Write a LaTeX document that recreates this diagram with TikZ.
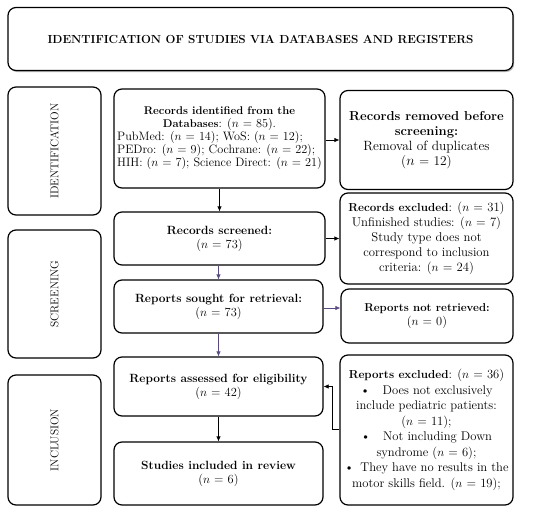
\documentclass[tikz,border=0pt]{standalone}
\usetikzlibrary{arrows.meta,shadows,positioning,calc}
\definecolor{arrpurple}{HTML}{5A4A82}
\newcommand{\bt}[1]{{\fontsize{11.9}{12}\selectfont\bfseries #1}}
\begin{document}
\begin{tikzpicture}[x=1pt,y=-1pt,
  box/.style={draw=black,line width=1.2pt,rounded corners=8pt,align=center,inner sep=2pt,fill=white},
  sidebox/.style={box,minimum width=93pt},
  arr/.style={-{Latex[length=5pt,width=4.5pt]},line width=0.7pt},
  parr/.style={arr,draw=arrpurple,color=arrpurple},
  every node/.style={font=\fontsize{12.2}{12.5}\selectfont}
]
\useasboundingbox (0,0) rectangle (550,512);
\node[box,minimum width=505pt,minimum height=63pt,
  drop shadow={shadow xshift=1.2pt,shadow yshift=-1.5pt,fill=black!60}] (title) at (260.5,39)
  {\fontsize{11.7}{13}\selectfont\bfseries IDENTIFICATION OF STUDIES VIA DATABASES AND REGISTERS};
\node[sidebox,minimum height=128pt] (ident) at (54.5,151) {};
\node[rotate=90,font=\fontsize{11.3}{13}\selectfont] at (ident.center) {IDENTIFICATION};
\node[sidebox,minimum height=128pt] (screen) at (54.5,294) {};
\node[rotate=90,font=\fontsize{11.3}{13}\selectfont] at (screen.center) {SCREENING};
\node[sidebox,minimum height=130pt] (incl) at (54.5,440) {};
\node[rotate=90,font=\fontsize{11.3}{13}\selectfont] at (incl.center) {INCLUSION};

\node[box,minimum width=211pt,minimum height=99pt] (rid) at (219.5,138.5)
  {{\fontsize{11.2}{12}\selectfont\bfseries Records identified from the}\\{\fontsize{11.2}{12}\selectfont\bfseries Databases}: ($n$ = 85).\\[0pt]
   \begin{tabular}{@{}l@{}}PubMed: ($n$ = 14); WoS: ($n$ = 12);\\PEDro: ($n$ = 9); Cochrane: ($n$ = 22);\\HIH: ($n$ = 7); Science Direct: ($n$ = 21)\end{tabular}};
\node[box,minimum width=211pt,minimum height=53pt,font=\fontsize{12.4}{14}\selectfont] (rsc) at (219.5,238.5)
  {\bt{Records screened:}\\($n$ = 73)};
\node[box,minimum width=209pt,minimum height=53pt,font=\fontsize{12.4}{14}\selectfont] (rso) at (218.5,306.5)
  {\bt{Reports sought for retrieval:}\\($n$ = 73)};
\node[box,minimum width=209pt,minimum height=59pt,font=\fontsize{12.4}{14}\selectfont] (ras) at (218.5,386.5)
  {\bt{Reports assessed for eligibility}\\($n$ = 42)};
\node[box,minimum width=209pt,minimum height=63pt,font=\fontsize{12.4}{14}\selectfont] (sin) at (218.5,473.5)
  {\bt{Studies included in review}\\($n$ = 6)};

\node[box,minimum width=173pt,minimum height=99pt,font=\fontsize{13.4}{15}\selectfont] (rrm) at (426.5,140)
  {{\fontsize{13}{13}\selectfont\bfseries Records removed before}\\{\fontsize{13}{13}\selectfont\bfseries screening:}\\Removal of duplicates\\($n$ = 12)};
\node[box,minimum width=173pt,minimum height=91pt,font=\fontsize{12.7}{15}\selectfont] (rex) at (426.5,238.5)
  {{\fontsize{11.6}{12}\selectfont\bfseries Records excluded}: ($n$ = 31)\\Unfinished studies: ($n$ = 7)\\Study type does not\\correspond to inclusion\\criteria: ($n$ = 24)};
\node[box,minimum width=172pt,minimum height=54pt,font=\fontsize{12.4}{14}\selectfont] (rnr) at (427,316)
  {{\fontsize{11.4}{12}\selectfont\bfseries Reports not retrieved:}\\($n$ = 0)};
\node[box,minimum width=173pt,minimum height=150pt,font=\fontsize{12.6}{15.5}\selectfont] (rex2) at (426.5,430)
  {{\fontsize{11.6}{12}\selectfont\bfseries Reports excluded}: ($n$ = 36)\\
   \textbullet\quad Does not exclusively\\include pediatric patients:\\($n$ = 11);\\
   \textbullet\quad Not including Down\\syndrome ($n$ = 6);\\
   \textbullet\enspace They have no results in the\\motor skills field. ($n$ = 19);};

\draw[arr] (rid.east |- 0,140) -- (rrm.west |- 0,140);
\draw[arr] (rid.south) -- (rsc.north);
\draw[arr] (rsc.east) -- (rex.west |- rsc.east);
\draw[parr] (rsc.south -| rso.north) -- (rso.north);
\draw[parr] (rso.east |- 0,308) -- (rnr.west |- 0,308);
\draw[parr] (rso.south) -- (ras.north);
\draw[arr] (ras.south) -- (sin.north);
\coordinate (bend) at (332,429);
\draw[arr] (rex2.west |- bend) -- (bend) |- (ras.east);
\end{tikzpicture}
\end{document}
